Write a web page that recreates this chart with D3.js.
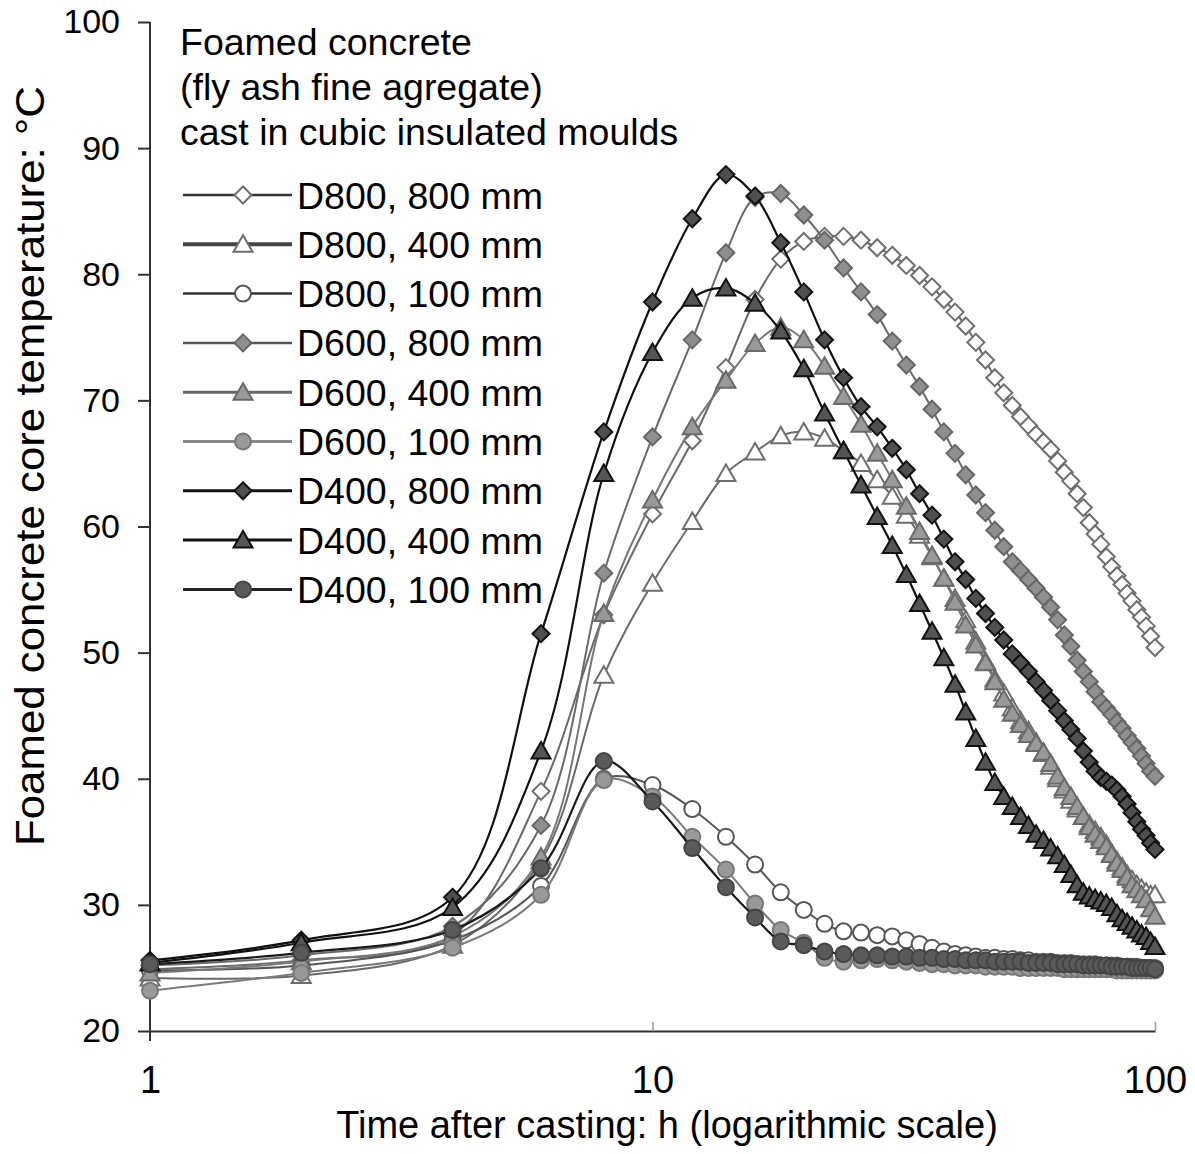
<!DOCTYPE html>
<html><head><meta charset="utf-8">
<script src="https://cdn.jsdelivr.net/npm/d3@7"></script>
<style>
body{margin:0;background:#fff}
text{font-family:"Liberation Sans",Arial,Helvetica,sans-serif;fill:#000}
</style>
</head><body>
<svg id="chart" width="1195" height="1154"></svg>
<script>
// ---- data ----
const hours = [1,2,4,6,8,10,12,14,16,18,20,22,24,26,28,30,32,34,36,38,40,42,44,46,48,50,52,54,56,58,60,62,64,66,68,70,72,74,76,78,80,82,84,86,88,90,92,94,96,98,100];

const d800_800 = [24.9,25.6,27.6,39.0,53.0,61.0,66.8,72.6,78.0,81.2,82.6,83.0,83.0,82.7,82.1,81.5,80.7,79.9,79.0,78.0,77.0,75.9,74.6,73.2,71.8,70.6,69.6,68.7,68.0,67.3,66.7,66.1,65.2,64.3,63.6,62.6,61.5,60.3,59.4,58.6,57.6,56.8,56.1,55.4,54.7,54.1,53.4,52.8,52.1,51.3,50.4];
const d800_400 = [24.2,24.4,26.8,33.5,48.2,55.5,60.4,64.2,65.9,67.2,67.5,67.0,66.0,65.0,63.7,62.4,60.9,59.3,57.6,55.9,54.3,52.6,50.9,49.3,47.9,46.8,45.6,44.6,43.8,42.9,42.0,41.0,40.0,39.1,38.3,37.6,37.0,36.4,35.9,35.4,34.8,34.1,33.5,33.0,32.4,32.0,31.6,31.3,31.0,30.8,30.8];
const d800_100 = [24.8,25.2,27.2,31.5,40.0,39.5,37.6,35.4,33.2,31.0,29.6,28.5,27.9,27.8,27.6,27.5,27.2,26.9,26.6,26.3,26.1,26.0,25.9,25.8,25.8,25.7,25.7,25.6,25.6,25.5,25.5,25.5,25.4,25.4,25.4,25.3,25.3,25.3,25.3,25.2,25.2,25.2,25.2,25.1,25.1,25.1,25.1,25.0,25.0,25.0,25.0];
const d600_800 = [25.2,26.0,28.3,36.3,56.3,67.1,74.8,81.7,86.1,86.4,84.7,82.7,80.5,78.6,76.8,74.7,72.8,71.1,69.3,67.5,65.8,64.1,62.5,61.1,59.7,58.4,57.2,56.5,55.8,55.1,54.4,53.6,52.6,51.4,50.5,49.4,48.5,47.7,46.9,46.1,45.6,45.1,44.5,44.0,43.4,42.9,42.4,41.8,41.2,40.6,40.2];
const d600_400 = [24.6,25.5,27.5,33.8,53.1,62.1,67.9,71.6,74.5,75.8,74.8,72.7,70.3,68.1,65.8,63.7,61.6,59.6,57.7,55.9,54.0,52.2,50.6,49.2,47.7,46.3,45.2,44.3,43.5,42.8,42.1,41.2,40.2,39.3,38.6,37.8,37.0,36.2,35.6,35.1,34.6,34.0,33.3,32.8,32.2,31.6,31.2,30.8,30.4,29.7,29.1];
const d600_100 = [23.2,24.6,26.6,30.8,39.9,38.6,35.4,32.8,30.1,28.0,27.0,25.8,25.5,25.6,25.7,25.6,25.5,25.4,25.3,25.3,25.2,25.2,25.2,25.1,25.1,25.1,25.1,25.0,25.0,25.0,25.0,25.0,25.0,24.9,24.9,24.9,24.9,24.9,24.9,24.9,24.9,24.9,24.8,24.8,24.8,24.8,24.8,24.8,24.8,24.8,24.8];
const d400_800 = [25.6,27.2,30.6,51.5,67.5,77.8,84.4,87.9,86.2,82.5,78.6,74.8,71.8,69.5,67.9,66.2,64.5,62.6,60.9,59.0,57.2,55.8,54.3,53.1,52.0,51.0,49.9,49.2,48.5,47.7,47.0,46.2,45.4,44.6,43.9,43.2,42.2,41.3,40.6,40.1,39.8,39.5,39.1,38.6,38.0,37.3,36.6,36.0,35.5,34.9,34.4];
const d400_400 = [25.4,27.0,29.8,42.2,64.2,73.8,78.1,78.9,77.7,75.5,72.5,69.0,66.0,63.3,60.8,58.5,56.2,53.9,51.7,49.6,47.5,45.3,43.2,41.3,39.7,38.6,37.8,37.0,36.3,35.6,35.1,34.5,33.9,33.2,32.4,31.6,31.0,30.7,30.5,30.3,30.1,29.8,29.3,28.9,28.6,28.3,28.0,27.7,27.5,27.1,26.7];
const d400_100 = [25.3,26.2,28.0,32.9,41.4,38.2,34.5,31.4,29.0,27.1,26.8,26.3,26.1,26.0,26.0,25.9,25.9,25.8,25.8,25.7,25.7,25.6,25.6,25.6,25.5,25.5,25.5,25.5,25.4,25.4,25.4,25.4,25.3,25.3,25.3,25.3,25.2,25.2,25.2,25.2,25.2,25.1,25.1,25.1,25.1,25.0,25.0,25.0,25.0,25.0,24.9];

const seriesNames = ["D800, 800 mm","D800, 400 mm","D800, 100 mm","D600, 800 mm","D600, 400 mm","D600, 100 mm","D400, 800 mm","D400, 400 mm","D400, 100 mm"];
const seriesValues = [d800_800,d800_400,d800_100,d600_800,d600_400,d600_100,d400_800,d400_400,d400_100];
const yTicks = [20,30,40,50,60,70,80,90,100];
const xTicks = [1,10,100];
const noteLines = ["Foamed concrete","(fly ash fine agregate)","cast in cubic insulated moulds"];
const xTitle = "Time after casting: h (logarithmic scale)";
const yTitle = "Foamed concrete core temperature: °C";

// ---- styles ----
const styles = [
  {shape:"diamond",  fill:"#ffffff", stroke:"#6e6e6e", line:"#6a6a6a", lw:2,   legLine:"#333", legW:2.5},
  {shape:"triangle", fill:"#ffffff", stroke:"#6e6e6e", line:"#6a6a6a", lw:2,   legLine:"#444", legW:4},
  {shape:"circle",   fill:"#ffffff", stroke:"#555555", line:"#555555", lw:2,   legLine:"#333", legW:2.5},
  {shape:"diamond",  fill:"#8f8f8f", stroke:"#666666", line:"#6a6a6a", lw:2,   legLine:"#555", legW:2.5},
  {shape:"triangle", fill:"#999999", stroke:"#6a6a6a", line:"#777777", lw:2,   legLine:"#666", legW:3},
  {shape:"circle",   fill:"#999999", stroke:"#777777", line:"#7a7a7a", lw:2,   legLine:"#888", legW:3},
  {shape:"diamond",  fill:"#4f4f4f", stroke:"#111111", line:"#111111", lw:2.2, legLine:"#111", legW:3},
  {shape:"triangle", fill:"#555555", stroke:"#111111", line:"#111111", lw:2.2, legLine:"#111", legW:3},
  {shape:"circle",   fill:"#5a5a5a", stroke:"#444444", line:"#1a1a1a", lw:2.2, legLine:"#222", legW:3}
];

const svg = d3.select("#chart");
const x = d3.scaleLog().domain([1,100]).range([150,1155]);
const y = d3.scaleLinear().domain([20,100]).range([1031,22]);

function markerPath(shape){
  if(shape==="diamond") return "M0,-8.5L8.5,0L0,8.5L-8.5,0Z";
  if(shape==="triangle") return "M0,-9L9.5,7.5L-9.5,7.5Z";
  return d3.symbol(d3.symbolCircle, Math.PI*8*8)();
}

// axes
const yAxis = d3.axisLeft(y).tickValues(yTicks).tickSize(12).tickSizeOuter(0).tickPadding(18);
const gy = svg.append("g").attr("transform","translate(150,0)").call(yAxis);
gy.select(".domain").attr("stroke","#333").attr("stroke-width",2).attr("d","M0,22V1041");
gy.selectAll(".tick line").attr("stroke","#333").attr("stroke-width",2);
gy.selectAll(".tick text").attr("font-size",34).attr("fill","#000").attr("font-family","Liberation Sans, Arial, sans-serif");

const xAxis = d3.axisBottom(x).tickValues(xTicks).tickFormat(d3.format("d")).tickSize(0).tickPadding(35);
const gx = svg.append("g").attr("transform","translate(0,1031)").call(xAxis);
gx.select(".domain").attr("stroke","#333").attr("stroke-width",2);
gx.selectAll(".tick text").attr("font-size",38).attr("fill","#000").attr("font-family","Liberation Sans, Arial, sans-serif");
gx.selectAll(".tick").filter(d=>d!==1).append("line").attr("y1",0).attr("y2",-9).attr("stroke","#999").attr("stroke-width",1.5);

// series
const line = d3.line().x((d,i)=>x(hours[i])).y(d=>y(d)).curve(d3.curveCatmullRom.alpha(0.5));
seriesValues.forEach((vals,si)=>{
  const st = styles[si];
  const g = svg.append("g");
  g.append("path").attr("d",line(vals)).attr("fill","none").attr("stroke",st.line).attr("stroke-width",st.lw);
  g.selectAll("path.m").data(vals).join("path").attr("class","m")
    .attr("d",markerPath(st.shape))
    .attr("transform",(d,i)=>`translate(${x(hours[i])},${y(d)})`)
    .attr("fill",st.fill).attr("stroke",st.stroke).attr("stroke-width",2);
});

// annotation
const note = svg.append("g");
noteLines.forEach((t,i)=>{
  note.append("text").attr("x",180).attr("y",42+i*45).attr("dy","0.35em").attr("font-size",37.5).text(t);
});

// legend
const leg = svg.append("g");
seriesNames.forEach((n,i)=>{
  const st = styles[i];
  const cy = 195 + i*49.3;
  leg.append("line").attr("x1",183).attr("x2",292).attr("y1",cy).attr("y2",cy).attr("stroke",st.legLine).attr("stroke-width",st.legW);
  leg.append("path").attr("d",markerPath(st.shape)).attr("transform",`translate(243,${cy})`)
    .attr("fill",st.fill).attr("stroke",st.stroke).attr("stroke-width",2);
  leg.append("text").attr("x",297).attr("y",cy).attr("dy","0.36em").attr("font-size",37.5).text(n);
});

// axis titles
svg.append("text").attr("x",667).attr("y",1125).attr("dy","0.35em").attr("text-anchor","middle").attr("font-size",38).text(xTitle);
svg.append("text").attr("transform","translate(30,466) rotate(-90)").attr("dy","0.35em").attr("text-anchor","middle")
  .attr("font-size",40).attr("textLength",760).attr("lengthAdjust","spacingAndGlyphs").text(yTitle);
</script>
</body></html>
